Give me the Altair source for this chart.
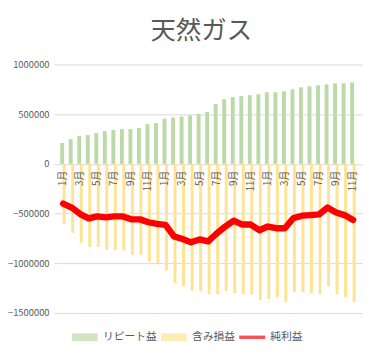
import altair as alt
import pandas as pd

idx = list(range(1, 36))
month_labels = ["1月", "", "3月", "", "5月", "", "7月", "", "9月", "", "11月", "",
                "1月", "", "3月", "", "5月", "", "7月", "", "9月", "", "11月", "",
                "1月", "", "3月", "", "5月", "", "7月", "", "9月", "", "11月"]
repeat = [210000, 250000, 280000, 290000, 310000, 330000, 340000, 350000, 350000, 360000,
          400000, 410000, 455000, 467000, 477000, 487000, 503000, 523000, 602000, 651000,
          671000, 681000, 691000, 700000, 720000, 720000, 730000, 750000, 770000, 780000,
          790000, 800000, 810000, 810000, 820000]
unreal = [-604000, -693000, -795000, -835000, -835000, -865000, -865000, -874000, -914000, -914000,
          -983000, -1003000, -1073000, -1201000, -1231000, -1275000, -1280000, -1310000, -1310000, -1280000,
          -1300000, -1310000, -1310000, -1370000, -1360000, -1340000, -1390000, -1290000, -1290000, -1300000,
          -1310000, -1231000, -1310000, -1340000, -1390000]
net = [-399000, -439000, -505000, -548000, -528000, -538000, -528000, -528000, -558000, -558000,
       -587000, -604000, -614000, -729000, -755000, -789000, -760000, -779000, -700000, -630000,
       -571000, -610000, -610000, -667000, -630000, -647000, -647000, -545000, -521000, -515000,
       -508000, -439000, -488000, -515000, -564000]
series = ["リピート益", "含み損益", "純利益"]
colors = ["#bcdaa8", "#ffe394", "#ff0000"]
y_ticks = [-1500000, -1000000, -500000, 0, 500000, 1000000]

df = pd.DataFrame({"idx": idx, "label": month_labels, "repeat": repeat, "unreal": unreal, "net": net})
leg = pd.DataFrame({"series": series, "idx": [1, 1, 1], "v": [0, 0, 0]})

FONT = "Noto Sans CJK JP"
GRAY = "#595959"

x = alt.X("idx:Q", scale=alt.Scale(domain=[0.5, 35.5], nice=False, zero=False), axis=None)
yscale = alt.Scale(domain=[-1500000, 1000000], nice=False)

base = alt.Chart(df)
green = base.mark_bar(size=4, color=colors[0], xOffset=-1).encode(
    x=x,
    y=alt.Y("repeat:Q", scale=yscale, title=None,
            axis=alt.Axis(values=y_ticks, format="d", domain=False, ticks=False,
                          labelFont=FONT, labelFontSize=9.6, labelColor=GRAY, labelPadding=5,
                          gridColor="#d9d9d9")),
)
yellow = base.mark_bar(size=3, color=colors[1], xOffset=1).encode(x=x, y=alt.Y("unreal:Q", scale=yscale))
line = base.mark_line(color=colors[2], strokeWidth=6.5, strokeJoin="round", strokeCap="round").encode(
    x=x, y=alt.Y("net:Q", scale=yscale))
labels = base.mark_text(angle=270, align="right", baseline="middle", dx=-7,
                        font=FONT, fontSize=10, color=GRAY).encode(
    x=x, y=alt.datum(0), text="label:N")

legend_pts = alt.Chart(leg).mark_point(size=0, filled=True).encode(
    x=alt.X("idx:Q"), y=alt.Y("v:Q", scale=yscale),
    color=alt.Color("series:N", scale=alt.Scale(domain=series, range=colors),
                    legend=alt.Legend(orient="none", legendX=18, legendY=265, direction="horizontal",
                                      title=None, labelFont=FONT, labelFontSize=11, labelColor=GRAY,
                                      symbolSize=700, symbolStrokeWidth=0, labelOffset=5,
                                      columnPadding=4)),
    shape=alt.Shape("series:N", scale=alt.Scale(domain=series, range=[
        "M-1,-0.3H1V0.3H-1Z", "M-1,-0.3H1V0.3H-1Z", "M-1,-0.13H1V0.13H-1Z"]), legend=None),
)

chart = alt.layer(green, yellow, line, labels, legend_pts).properties(
    width=315, height=254,
    autosize=alt.AutoSizeParams(type="none"),
    padding={"left": 47, "top": 54, "right": 13, "bottom": 30},
    title=alt.Title("天然ガス", font=FONT, fontSize=26, fontWeight="normal", color=GRAY,
                    anchor="middle", offset=16, dx=-7),
).configure_view(stroke=None)

chart.save("out.html", embed_options={"renderer": "svg", "actions": False})
